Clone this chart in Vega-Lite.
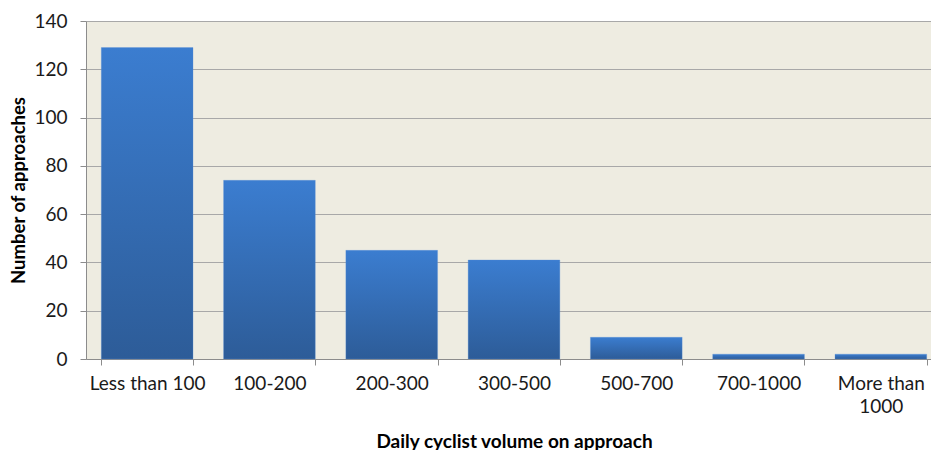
{
  "$schema": "https://vega.github.io/schema/vega-lite/v6.json",
  "autosize": "none",
  "width": 856,
  "height": 338,
  "padding": {"left": 86, "top": 21, "right": 0, "bottom": 91},
  "background": "white",
  "config": {
    "view": {"fill": "#EEECE1", "stroke": null},
    "font": "Lato"
  },
  "data": {
    "values": [
      {"volume": "Less than 100", "approaches": 129},
      {"volume": "100-200", "approaches": 74},
      {"volume": "200-300", "approaches": 45},
      {"volume": "300-500", "approaches": 41},
      {"volume": "500-700", "approaches": 9},
      {"volume": "700-1000", "approaches": 2},
      {"volume": "More than 1000", "approaches": 2}
    ]
  },
  "mark": {
    "type": "bar",
    "fill": {
      "gradient": "linear",
      "x1": 0, "y1": 0, "x2": 0, "y2": 1,
      "stops": [
        {"offset": 0, "color": "#3B7DD0"},
        {"offset": 1, "color": "#2D5C98"}
      ]
    },
    "stroke": "#5A8FD6",
    "strokeWidth": 0.5,
    "strokeOpacity": 0.6
  },
  "encoding": {
    "x": {
      "field": "volume",
      "type": "nominal",
      "sort": null,
      "scale": {"paddingInner": 0.25, "paddingOuter": 0.125},
      "axis": {
        "title": "Daily cyclist volume on approach",
        "titleFont": "Lato",
        "titleFontSize": 19,
        "titleFontWeight": "bold",
        "titleColor": "#000000",
        "titlePadding": 16,
        "labelAngle": 0,
        "labelFontSize": 19,
        "labelColor": "#1a1a1a",
        "labelPadding": 9,
        "labelLineHeight": 23,
        "labelExpr": "datum.value == 'More than 1000' ? ['More than', '1000'] : datum.label",
        "tickBand": "extent",
        "tickSize": 6,
        "tickColor": "#8C8C8C",
        "domainColor": "#8C8C8C",
        "grid": false
      }
    },
    "y": {
      "field": "approaches",
      "type": "quantitative",
      "scale": {"domain": [0, 140], "nice": false},
      "axis": {
        "title": "Number of approaches",
        "titleFont": "Lato",
        "titleFontSize": 18.5,
        "titleFontWeight": "bold",
        "titleColor": "#000000",
        "titlePadding": 5,
        "values": [0, 20, 40, 60, 80, 100, 120, 140],
        "labelFontSize": 19,
        "labelColor": "#1a1a1a",
        "labelPadding": 13,
        "tickSize": 6,
        "tickColor": "#8C8C8C",
        "domainColor": "#8C8C8C",
        "gridColor": "#A8A8A8",
        "gridWidth": 1.2
      }
    }
  }
}
